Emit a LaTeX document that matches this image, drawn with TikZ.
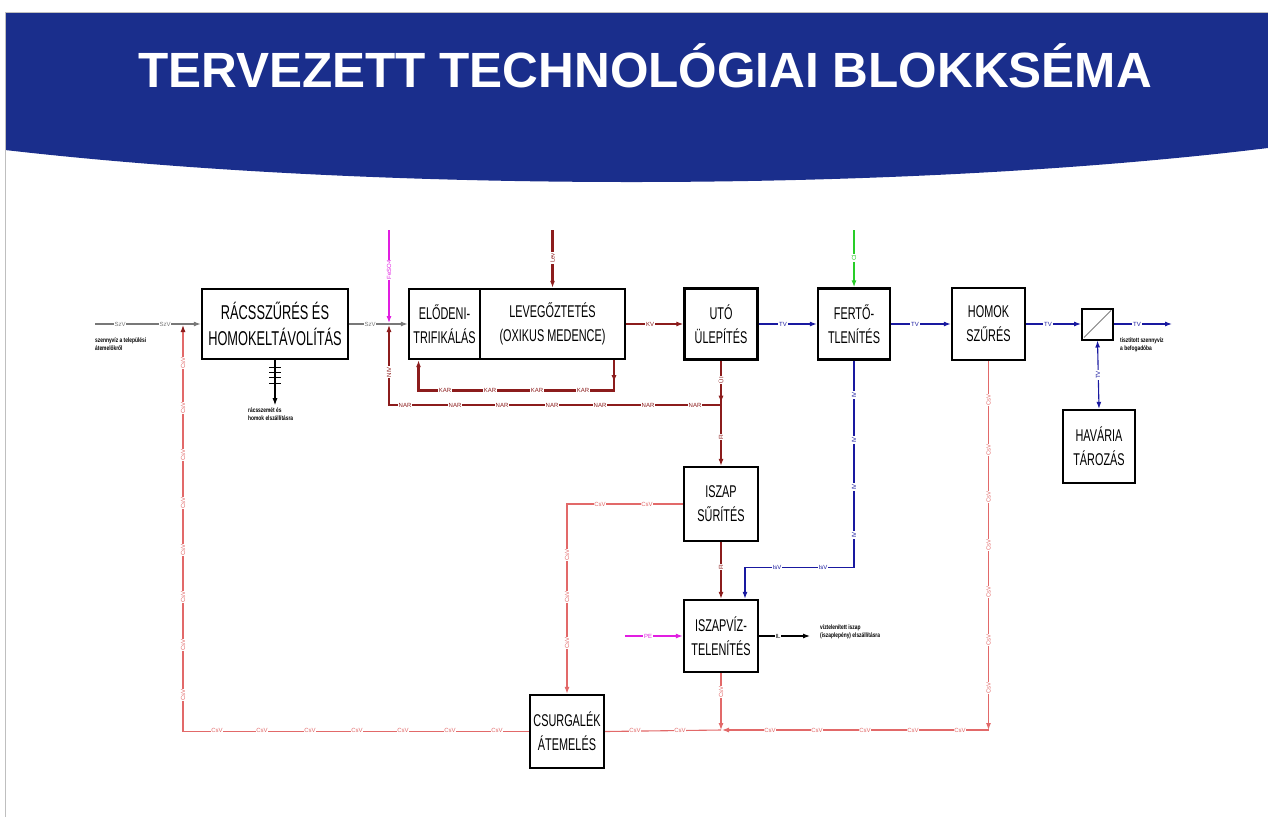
\documentclass[tikz,border=0pt]{standalone}
\usepackage{graphicx}
\usepackage{fontspec}
\setmainfont{Liberation Sans}
\usetikzlibrary{arrows.meta,calc}
\definecolor{hdr}{RGB}{26,46,140}
\definecolor{dred}{RGB}{140,28,28}
\definecolor{pinkr}{RGB}{226,105,105}
\definecolor{fblue}{RGB}{25,25,160}
\definecolor{mag}{RGB}{225,30,225}
\definecolor{grn}{RGB}{40,205,40}
\definecolor{gry}{RGB}{120,120,120}
\newcommand{\cn}[1]{\scalebox{0.64}[1]{#1}}
\newcommand{\cm}[1]{\scalebox{0.75}[1]{#1}}
\begin{document}
\begin{tikzpicture}[x=1pt,y=-1pt,
  blk/.style={draw,line width=2.4pt,inner sep=0pt,font=\fontsize{17}{24}\selectfont,align=center},
  lbl/.style={fill=white,inner sep=0.8pt,font=\fontsize{6}{6}\selectfont},
  vlbl/.style={lbl,rotate=90},
  tip/.style={-{Latex[length=7pt,width=5pt]}},
  fl/.style={line width=1.1pt},
  thk/.style={line width=2.6pt},
  note/.style={font=\bfseries\fontsize{6.5}{8}\selectfont,align=left,anchor=north west,inner sep=0pt}
]
\useasboundingbox (0,0) rectangle (1268,817);
\fill[white] (0,0) rectangle (1268,817);
% header
\fill[hdr] (5,12) -- (1268,12) -- (1268,148) .. controls (900,193) and (380,193) .. (5,150) -- cycle;
\draw[gray!50,line width=0.8pt] (5,817) -- (5,12) -- (1268,12);
\node[text=white,font=\bfseries\fontsize{49.5}{50}\selectfont,anchor=base,inner sep=0pt] (title) at (645,87) {TERVEZETT TECHNOLÓGIAI BLOKKSÉMA};

% boxes
\node[blk,minimum width=146pt,minimum height=70pt,font=\fontsize{20}{26}\selectfont] (racs) at (275,324) {\cn{RÁCSSZŰRÉS ÉS}\\\cn{HOMOKELTÁVOLÍTÁS}};
\node[blk,minimum width=71pt,minimum height=70pt] (elo) at (444.5,324) {\cn{ELŐDENI-}\\\cn{TRIFIKÁLÁS}};
\node[blk,minimum width=145pt,minimum height=70pt] (lev) at (552.5,324) {\cn{LEVEGŐZTETÉS}\\\cn{(OXIKUS MEDENCE)}};
\node[blk,minimum width=73pt,minimum height=71pt] (uto) at (721,324) {\cn{UTÓ}\\\cn{ÜLEPÍTÉS}};
\node[blk,minimum width=72pt,minimum height=71pt] (fert) at (854,324) {\cn{FERTŐ-}\\\cn{TLENÍTÉS}};
\node[blk,minimum width=73pt,minimum height=72pt] (homok) at (988.5,324) {\cn{HOMOK}\\\cn{SZŰRÉS}};
\node[draw,line width=2pt,minimum width=31pt,minimum height=31pt,inner sep=0pt] (sq) at (1097.5,324) {};
\node[blk,minimum width=72pt,minimum height=73pt] (hav) at (1099,446.5) {\cn{HAVÁRIA}\\\cn{TÁROZÁS}};
\node[blk,minimum width=74pt,minimum height=74pt] (isz) at (721,504) {\cn{ISZAP}\\\cn{SŰRÍTÉS}};
\node[blk,minimum width=74pt,minimum height=72pt] (iszv) at (721,636) {\cn{ISZAPVÍZ-}\\\cn{TELENÍTÉS}};
\node[blk,minimum width=74pt,minimum height=73pt] (csu) at (567,731.5) {\cn{CSURGALÉK}\\\cn{ÁTEMELÉS}};
\draw[gray,line width=0.9pt] ([shift={(3pt,3pt)}]sq.south west) -- ([shift={(-3pt,-3pt)}]sq.north east);

% coordinates
\coordinate (in) at (95,324);
\coordinate (j0) at (183,324);
\coordinate (j1) at (389,324);
\coordinate (feS) at (389,230);
\coordinate (levS) at (552.5,230);
\coordinate (clS) at (854,230);
\coordinate (out) at (1172,324);
\coordinate (pe) at (625,636);
\coordinate (sl) at (810,636);
\coordinate (bj) at (721,730);
\coordinate (hbc) at (988.5,730);
\coordinate (nj) at (721,405);

% main line
\draw[fl,gry,tip] (in) -- (racs.west);
\foreach \x in {120,165} \node[lbl,text=gry] at (\x,324) {SzV};
\draw[fl,gry,tip] (racs.east) -- (elo.west);
\node[lbl,text=gry] at (370,324) {SzV};
\draw[fl,mag,tip] (feS) -- ([yshift=1pt]j1);
\node[vlbl,text=mag] at (389,270) {FeSO4};
\draw[thk,dred,tip] (levS) -- (lev.north);
\node[vlbl,text=dred] at (552.5,258) {Lev};
\draw[fl,dred,tip] (lev.east) -- (uto.west);
\node[lbl,text=dred] at (650,324) {KV};
\draw[fl,fblue,tip] (uto.east) -- (fert.west);
\node[lbl,text=fblue] at (783,324) {TV};
\draw[thk,grn,tip] (clS) -- (fert.north);
\node[vlbl,text=grn] at (854,258) {Cl};
\draw[fl,fblue,tip] (fert.east) -- (homok.west);
\node[lbl,text=fblue] at (915,324) {TV};
\draw[fl,fblue,tip] (homok.east) -- (sq.west);
\node[lbl,text=fblue] at (1048,324) {TV};
\draw[fl,fblue,tip] (sq.east) -- (out);
\node[lbl,text=fblue] at (1137,324) {TV};
\draw[fl,fblue,{Latex[length=7pt,width=5pt]}-{Latex[length=7pt,width=5pt]}] (sq.south) -- (hav.north);
\node[vlbl,text=fblue] at (1098,375) {TV};

% screenings
\draw[fl,black,tip] (racs.south) -- ++(0,45);
\foreach \t in {7,12,17,23} \draw[line width=0.8pt] ([shift={(-6pt,-\t pt)}]racs.south) -- ++(12,0);
\node[note] (n1) at (248,408) {\cm{rácsszemét és}\\\cm{homok elszállításra}};
\node[note] (n0) at (95,338) {\cm{szennyvíz a települési}\\\cm{átemelőkről}};
\node[note] (n2) at (1120,338) {\cm{tisztított szennyvíz}\\\cm{a befogadóba}};

% KAR loop
\draw[thk,dred,tip] ([xshift=61.5pt]lev.south) -- ++(0,22);
\draw[thk,dred,tip] ([xshift=61.5pt]lev.south) -- ++(0,30) -| ([xshift=-26pt]elo.south);
\foreach \x in {445,490,537,583} \node[lbl,text=dred] at (\x,390) {KAR};

% sludge line from UTO
\draw[fl,dred,tip] (uto.south) -- ++(0,42);
\draw[fl,dred,tip] (uto.south) -- (isz.north);
\node[vlbl,text=dred] at (721,380) {ÜI};
\node[vlbl,text=dred] at (721,437) {FI};
% NAR
\draw[fl,dred,tip] (nj) -| ([yshift=-1pt]j1);
\foreach \x in {405,455,502,552,600,648,695} \node[lbl,text=dred] at (\x,405) {NAR};
\node[vlbl,text=dred] at (389,372) {NIV};

% ISZAP -> ISZAPVIZ
\draw[fl,dred,tip] (isz.south) -- (iszv.north);
\node[vlbl,text=dred] at (721,567) {FI};
% blue IV
\draw[fl,fblue,tip] (fert.south) -- ++(0,207) -| ([xshift=24pt]iszv.north);
\foreach \y in {395,440,487,535} \node[vlbl,text=fblue] at (854,\y) {IV};
\foreach \x in {777,823} \node[lbl,text=fblue] at (\x,567.7) {IsV};
% PE and IL
\draw[fl,mag,tip] (pe) -- (iszv.west);
\node[lbl,text=mag] at (648,636) {PE};
\draw[fl,black,tip] (iszv.east) -- (sl);
\node[lbl,text=black] at (778,636) {IL};
\node[note] (n3) at (820,625) {\cm{víztelenített iszap}\\\cm{(iszaplepény) elszállításra}};

% CsV lines
\draw[fl,pinkr,tip] (isz.west) -| (csu.north);
\foreach \x in {600,647} \node[lbl,text=pinkr] at (\x,504) {CsV};
\foreach \y in {555,597,643} \node[vlbl,text=pinkr] at (567,\y) {CsV};
\draw[fl,pinkr,tip] (iszv.south) -- (bj);
\node[vlbl,text=pinkr] at (721,692) {CsV};
\draw[fl,pinkr,tip] (homok.south) -- (hbc);
\foreach \y in {400,450,497,545,592,640,688} \node[vlbl,text=pinkr] at (988.5,\y) {CsV};
\draw[fl,pinkr,tip] (hbc) -- ([xshift=1pt]bj);
\foreach \x in {770,817,865,913,960} \node[lbl,text=pinkr] at (\x,730) {CsV};
\draw[fl,pinkr] (bj) -- (csu.east);
\foreach \x in {635,680} \node[lbl,text=pinkr] at (\x,730) {CsV};
\draw[fl,pinkr,-{Latex[length=7pt,width=5pt,color=dred]}] (csu.west) -| ([yshift=-1pt]j0);
\foreach \x in {217,262,310,357,403,450,497} \node[lbl,text=pinkr] at (\x,730) {CsV};
\foreach \y in {363,408,455,503,550,597,645,695} \node[vlbl,text=pinkr] at (183,\y) {CsV};
\end{tikzpicture}
\end{document}
